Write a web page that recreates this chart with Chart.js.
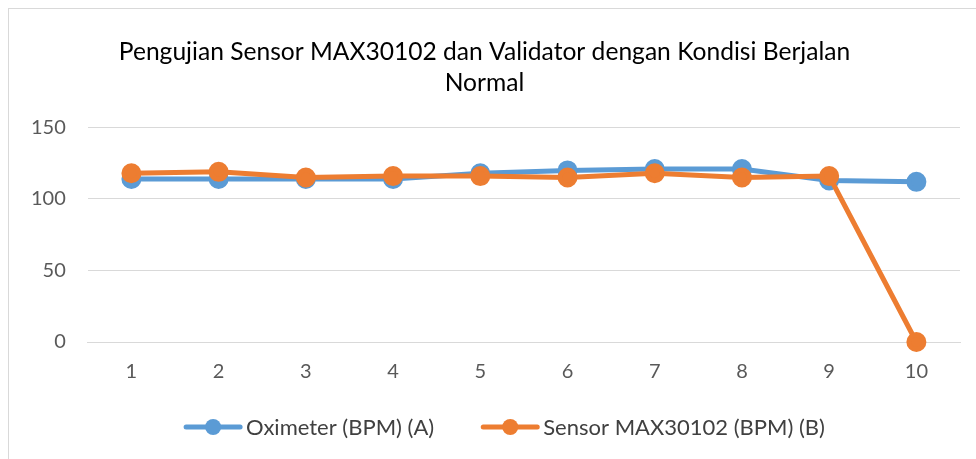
<!DOCTYPE html>
<html>
<head>
<meta charset="utf-8">
<script src="https://cdn.jsdelivr.net/npm/chart.js@4"></script>
<style>
  html, body { margin: 0; padding: 0; background: #fff; overflow: hidden; }
  #wrap { position: absolute; left: 8px; top: 8px; width: 980px; height: 460px; border-left: 1px solid #d9d9d9; border-top: 1px solid #d9d9d9; }
  #chart { position: absolute; left: 0; top: 0; }
</style>
</head>
<body>
<div id="wrap"></div>
<canvas id="chart" width="976" height="459"></canvas>
<script>
const categories = ['1', '2', '3', '4', '5', '6', '7', '8', '9', '10'];
const oximeter = [114, 114, 114, 114, 118, 120, 121, 121, 113, 112];
const sensor = [118, 119, 115, 116, 116, 115, 118, 115, 116, 0];
const yTicks = [0, 50, 100, 150];

const blue = '#5B9BD5';
const orange = '#ED7D31';
const fontFamily = 'Lato, "Open Sans", sans-serif';

// Excel style legend: line with a dot, then the label, drawn under the chart
const lineLegend = {
    id: 'lineLegend',
    afterDraw(chart) {
        const g = chart.ctx;
        const y = 427;
        const markW = 60;
        const gapText = 3;
        const gapItem = 46;
        g.save();
        g.font = '22px ' + fontFamily;
        g.textBaseline = 'middle';
        const items = chart.data.datasets.map(ds => ({
            text: ds.label,
            color: ds.borderColor,
            w: markW + gapText + g.measureText(ds.label).width
        }));
        const total = items.reduce((s, it) => s + it.w, 0) + gapItem * (items.length - 1);
        let x = 504 - total / 2;
        items.forEach(it => {
            g.strokeStyle = it.color;
            g.lineWidth = 5;
            g.lineCap = 'round';
            g.beginPath();
            g.moveTo(x + 3, y);
            g.lineTo(x + markW - 3, y);
            g.stroke();
            g.fillStyle = it.color;
            g.beginPath();
            g.arc(x + markW / 2, y, 8, 0, Math.PI * 2);
            g.fill();
            g.fillStyle = '#404040';
            g.fillText(it.text, x + markW + gapText, y + 1);
            x += it.w + gapItem;
        });
        g.restore();
    }
};

const ctx = document.getElementById('chart').getContext('2d');
new Chart(ctx, {
    type: 'line',
    data: {
        labels: categories,
        datasets: [{
            label: 'Oximeter (BPM) (A)',
            data: oximeter,
            borderColor: blue,
            backgroundColor: blue,
            borderWidth: 5,
            pointRadius: 7.5,
            pointStyle: 'circle',
            tension: 0,
            clip: false,
            order: 1
        }, {
            label: 'Sensor MAX30102 (BPM) (B)',
            data: sensor,
            borderColor: orange,
            backgroundColor: orange,
            borderWidth: 5,
            pointRadius: 7.5,
            pointStyle: 'circle',
            tension: 0,
            clip: false,
            order: 0 // orange sits on top, as in Excel
        }]
    },
    plugins: [lineLegend],
    options: {
        responsive: false,
        animation: false,
        layout: { padding: { left: 9, right: 16, top: 20, bottom: 65 } },
        plugins: {
            title: {
                display: true,
                text: ['Pengujian Sensor MAX30102 dan Validator dengan Kondisi Berjalan', 'Normal'],
                color: '#000',
                font: { family: fontFamily, size: 24.6, weight: 'normal', lineHeight: 1.27 },
                padding: { top: 16, bottom: 29 }
            },
            legend: { display: false },
            tooltip: { enabled: false }
        },
        scales: {
            x: {
                offset: true,
                grid: { display: false },
                border: { display: true, color: '#d9d9d9', width: 1 },
                ticks: { color: '#595959', font: { family: fontFamily, size: 20 }, padding: 10, maxRotation: 0, autoSkip: false }
            },
            y: {
                min: 0,
                max: 150,
                afterBuildTicks: (axis) => { axis.ticks = yTicks.map(v => ({ value: v })); },
                grid: { color: '#d9d9d9', lineWidth: 1, drawTicks: false },
                border: { display: false },
                ticks: { color: '#595959', font: { family: fontFamily, size: 20 }, padding: 22 }
            }
        }
    }
});
</script>
</body>
</html>
